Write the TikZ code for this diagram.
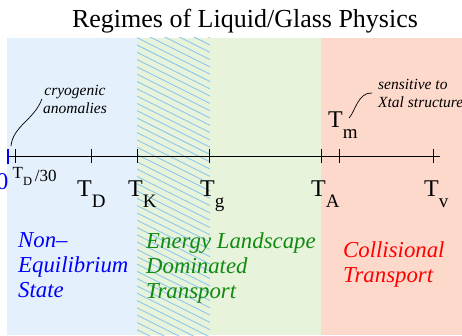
\documentclass[tikz,border=0pt]{standalone}
\usepackage{fontspec}
\setmainfont{Liberation Serif}
\usetikzlibrary{positioning}
\definecolor{icewash}{HTML}{E4F0FB}
\definecolor{leafwash}{HTML}{E8F3DB}
\definecolor{peachwash}{HTML}{FDD9CB}
\definecolor{hatchblue}{HTML}{8CC8F0}
\definecolor{landgreen}{HTML}{108A10}
\newcommand{\tsub}[1]{T\raisebox{-0.46em}{\fontsize{19}{19}\selectfont #1}}

\begin{document}
\begin{tikzpicture}[x=1pt,y=-1pt,
 tlab/.style={anchor=base west,inner sep=0pt,font=\fontsize{24}{24}\selectfont},
 tickmark/.style={draw=black,line width=0.8pt},
 note/.style={inner sep=1pt,font=\fontsize{15.5}{18}\selectfont\itshape},
 regime/.style={anchor=north west,inner sep=0pt,align=left,
 font=\fontsize{22.8}{25}\selectfont\itshape},
 lead/.style={draw=black,line width=0.7pt}]
\useasboundingbox (0,0) rectangle (462,335);
% regime bands
\fill[icewash] (7,37.7) rectangle (137,335);
\fill[leafwash] (137,37.7) rectangle (321,335);
\fill[peachwash] (321,37.7) rectangle (462,335);
\begin{scope}
\clip (137,37.7) rectangle (210,335);
\foreach \y in {1.2,8.5,...,336}
 \draw[hatchblue,line width=0.9pt] (137,\y) -- ++(73,36.5);
\end{scope}
\node[anchor=base,inner sep=0pt,font=\fontsize{26}{26}\selectfont] (title) at (245,27) {Regimes of Liquid/Glass Physics};
% temperature axis
\coordinate (axl) at (8,156);
\coordinate (axr) at (440,156);
\draw[line width=0.9pt] (axl) -- (axr);
\draw[blue,line width=2.2pt] (8,148.5) -- (8,163.5);
\foreach \x in {15,91,137,209,321,339,433}
 \draw[tickmark] (\x,149) -- (\x,163);
\node[anchor=base east,inner sep=0pt,text=blue,font=\fontsize{24}{24}\selectfont] (zero) at (8.5,189) {0};
\node[anchor=base west,inner sep=0pt,font=\fontsize{17}{17}\selectfont] (tdthirty) at (12.5,178)
 {T\raisebox{-0.42em}{\fontsize{12.5}{12.5}\selectfont D}\,\raisebox{-0.2em}{/30}};
\node[tlab] (td) at (77,196) {\tsub{D}};
\node[tlab] (tk) at (128,196) {\tsub{K}};
\node[tlab] (tg) at (200,196) {\tsub{g}};
\node[tlab] (ta) at (311,196) {\tsub{A}};
\node[tlab] (tv) at (424,196) {\tsub{v}};
\node[tlab] (tm) at (328,127) {\tsub{m}};
% annotations
\node[note,align=center] (cryo) at (75,99) {cryogenic\\anomalies};
\node[note,align=left,anchor=west] (sens) at (377,93) {sensitive to\\Xtal structure};
\coordinate (cryostart) at (11,146);
\coordinate (sensstart) at (349,118);
\draw[lead] (cryostart) .. controls (13,126) and (34,120) .. (cryo.west);
\draw[lead] (sensstart) .. controls (355,112) and (358,92) .. ([xshift=-5pt]sens.west);
% regime labels
\node[regime,text=blue] (noneq) at (18,232) {Non--\\Equilibrium\\State};
\node[regime,text=landgreen] (landscape) at (146,232) {Energy Landscape\\Dominated\\Transport};
\node[regime,text=red] (collide) at (343,241) {Collisional\\Transport};
\end{tikzpicture}
\end{document}
